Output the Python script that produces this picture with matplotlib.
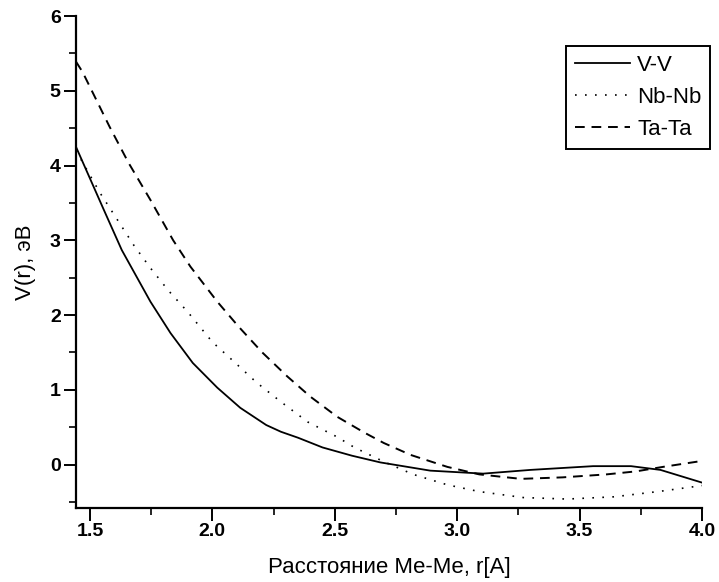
import numpy as np
import matplotlib
matplotlib.use('Agg')
import matplotlib.pyplot as plt
from matplotlib.ticker import MultipleLocator

plt.rcParams['font.family'] = ['Liberation Sans', 'DejaVu Sans']

# V-V pair potential (solid)
vv_r = [1.443, 1.555, 1.63, 1.747, 1.829, 1.92, 2.02, 2.114, 2.22, 2.28, 2.35, 2.45, 2.57,
        2.686, 2.89, 3.106, 3.30, 3.555, 3.71, 3.83, 4.0]
vv_v = [4.25, 3.42, 2.87, 2.18, 1.76, 1.36, 1.03, 0.76, 0.53, 0.44, 0.36, 0.23, 0.12,
        0.03, -0.08, -0.12, -0.07, -0.02, -0.02, -0.07, -0.24]

# Nb-Nb (dotted)
nb_r = [1.443, 1.54, 1.68, 1.747, 1.82, 1.90, 2.0, 2.094, 2.18, 2.28, 2.39, 2.51,
        2.58, 2.70, 2.82, 2.96, 3.09, 3.27, 3.45, 3.64, 3.82, 4.0]
nb_v = [4.2, 3.64, 2.93, 2.63, 2.33, 2.04, 1.64, 1.36, 1.10, 0.84, 0.57, 0.37,
        0.23, 0.04, -0.13, -0.27, -0.36, -0.44, -0.46, -0.43, -0.36, -0.28]

# Ta-Ta (dashed)
ta_r = [1.443, 1.47, 1.58, 1.657, 1.747, 1.84, 1.91, 2.02, 2.106, 2.204, 2.306, 2.40,
        2.51, 2.62, 2.70, 2.81, 2.96, 3.09, 3.26, 3.43, 3.61, 3.73, 3.84, 4.0]
ta_v = [5.39, 5.25, 4.52, 4.04, 3.54, 3.0, 2.65, 2.18, 1.85, 1.50, 1.18, 0.91,
        0.64, 0.43, 0.29, 0.13, -0.03, -0.13, -0.19, -0.17, -0.13, -0.09, -0.03, 0.05]

xticks = [1.5, 2.0, 2.5, 3.0, 3.5, 4.0]
yticks = [0, 1, 2, 3, 4, 5, 6]

fig = plt.figure(figsize=(7.19, 5.82), dpi=100)
ax = fig.add_axes([0.1057, 0.1271, 0.8707, 0.8454])

ax.plot(vv_r, vv_v, color='black', lw=1.3, ls='-', label='V-V')
ax.plot(nb_r, nb_v, color='black', lw=1.2, ls=(0, (1, 5)), label='Nb-Nb')
ax.plot(ta_r, ta_v, color='black', lw=1.4, ls=(0, (5, 3.5)), label='Ta-Ta')

ax.set_xlim(1.443, 4.0)
ax.set_ylim(-0.58, 6.0)
ax.spines['top'].set_visible(False)
ax.spines['right'].set_visible(False)
ax.spines['left'].set_linewidth(1.6)
ax.spines['bottom'].set_linewidth(1.6)

ax.set_xticks(xticks)
ax.set_xticklabels(['%.1f' % t for t in xticks])
ax.set_yticks(yticks)
ax.xaxis.set_minor_locator(MultipleLocator(0.25))
ax.yaxis.set_minor_locator(MultipleLocator(0.5))
ax.tick_params(which='major', direction='out', length=9, width=1.4, labelsize=14, pad=2)
ax.tick_params(which='minor', direction='out', length=5, width=1.2)
for lab in ax.get_xticklabels() + ax.get_yticklabels():
    lab.set_fontweight('bold')

ax.set_xlabel('Расстояние Me-Me, r[A]', fontsize=16, labelpad=12)
ax.set_ylabel('V(r), эВ', fontsize=16, labelpad=10)

leg = fig.legend(loc='upper left', bbox_to_anchor=(566 / 719, 1 - 46 / 582),
                 fontsize=16, handlelength=2.5, handletextpad=0.3,
                 borderpad=0.4, borderaxespad=0, labelspacing=0.5,
                 fancybox=False, framealpha=1, edgecolor='black')
leg.get_frame().set_linewidth(1.4)

fig.savefig('out.png', dpi=100)
